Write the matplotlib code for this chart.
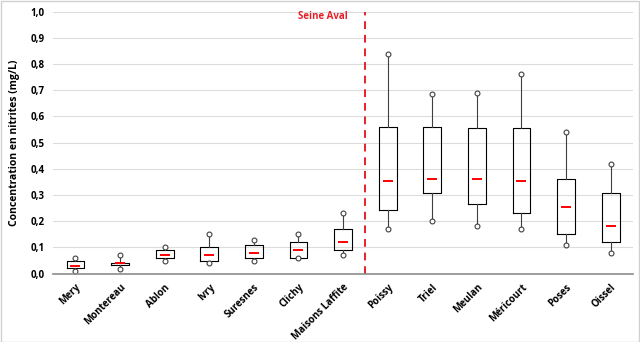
import matplotlib.pyplot as plt
from matplotlib.patches import Rectangle

# ======================================================
# DATA
# ======================================================
stations = ["Mery", "Montereau", "Ablon", "Ivry", "Suresnes", "Clichy",
            "Maisons Laffite", "Poissy", "Triel", "Meulan", "Méricourt",
            "Poses", "Oissel"]
val_min  = [0.010, 0.018, 0.050, 0.040, 0.050, 0.060, 0.072,
            0.170, 0.199, 0.181, 0.170, 0.110, 0.080]
val_q1   = [0.020, 0.031, 0.060, 0.050, 0.060, 0.060, 0.090,
            0.241, 0.308, 0.265, 0.230, 0.151, 0.120]
val_mean = [0.030, 0.040, 0.070, 0.070, 0.080, 0.090, 0.120,
            0.352, 0.361, 0.361, 0.352, 0.256, 0.181]
val_q3   = [0.050, 0.041, 0.090, 0.100, 0.110, 0.120, 0.170,
            0.559, 0.559, 0.554, 0.556, 0.361, 0.308]
val_max  = [0.059, 0.070, 0.100, 0.150, 0.130, 0.150, 0.230,
            0.840, 0.686, 0.689, 0.761, 0.540, 0.417]
split_after = 6   # last station before "Seine Aval"

# ======================================================
# PLOT
# ======================================================
plt.rcParams["font.family"] = ["Open Sans", "DejaVu Sans"]
fig = plt.figure(figsize=(6.4, 3.42), dpi=100)
ax = fig.add_axes([0.083, 0.200, 0.906, 0.766])

stats = []
for i, name in enumerate(stations):
    stats.append({
        "label": name,
        "whislo": val_min[i], "q1": val_q1[i], "med": val_mean[i],
        "q3": val_q3[i], "whishi": val_max[i], "mean": val_mean[i],
        "fliers": [val_min[i], val_max[i]],
    })

ax.bxp(stats, positions=range(len(stations)), widths=0.4,
       showmeans=True, showcaps=False,
       boxprops=dict(color="black", linewidth=0.8),
       whiskerprops=dict(color="#404040", linewidth=0.8),
       medianprops=dict(linewidth=0),
       meanprops=dict(marker="_", markeredgecolor="red", markersize=7,
                      markeredgewidth=1.4),
       flierprops=dict(marker="o", markerfacecolor="white",
                       markeredgecolor="#404040", markersize=3.5,
                       markeredgewidth=0.8))

ax.axvline(split_after + 0.5, color="#e8202a", linestyle="--", linewidth=1.4,
           dashes=(4, 3))
ax.text(split_after - 0.45, 0.98, "Seine Aval", color="#e8202a",
        fontsize=7, fontweight="bold", ha="center", va="center")

ax.set_xlim(-0.5, len(stations) - 0.5)
ax.set_ylim(0, 1.0)
ax.set_yticks([i / 10 for i in range(11)])
ax.set_yticklabels([f"{i / 10:.1f}".replace(".", ",") for i in range(11)],
                   fontsize=7, fontweight="bold")
ax.set_xticks(range(len(stations)))
ax.set_xticklabels(stations, rotation=45, ha="right", rotation_mode="anchor",
                   fontsize=7, fontweight="bold")
ax.tick_params(axis="both", length=0, pad=6)
ax.set_ylabel("Concentration en nitrites (mg/L)", fontsize=7.5,
              fontweight="bold", labelpad=8)

ax.grid(axis="y", color="#dcdcdc", linewidth=0.8)
ax.set_axisbelow(True)
for side in ["top", "right", "left"]:
    ax.spines[side].set_visible(False)
ax.spines["bottom"].set_color("#8c8c8c")
ax.spines["bottom"].set_linewidth(1.2)

# light frame round the chart
fig.patches.append(Rectangle((0.001, 0.001), 0.998, 0.997, fill=False,
                             edgecolor="#d0d0d0", linewidth=1,
                             transform=fig.transFigure))

fig.savefig("out.png", dpi=100)
